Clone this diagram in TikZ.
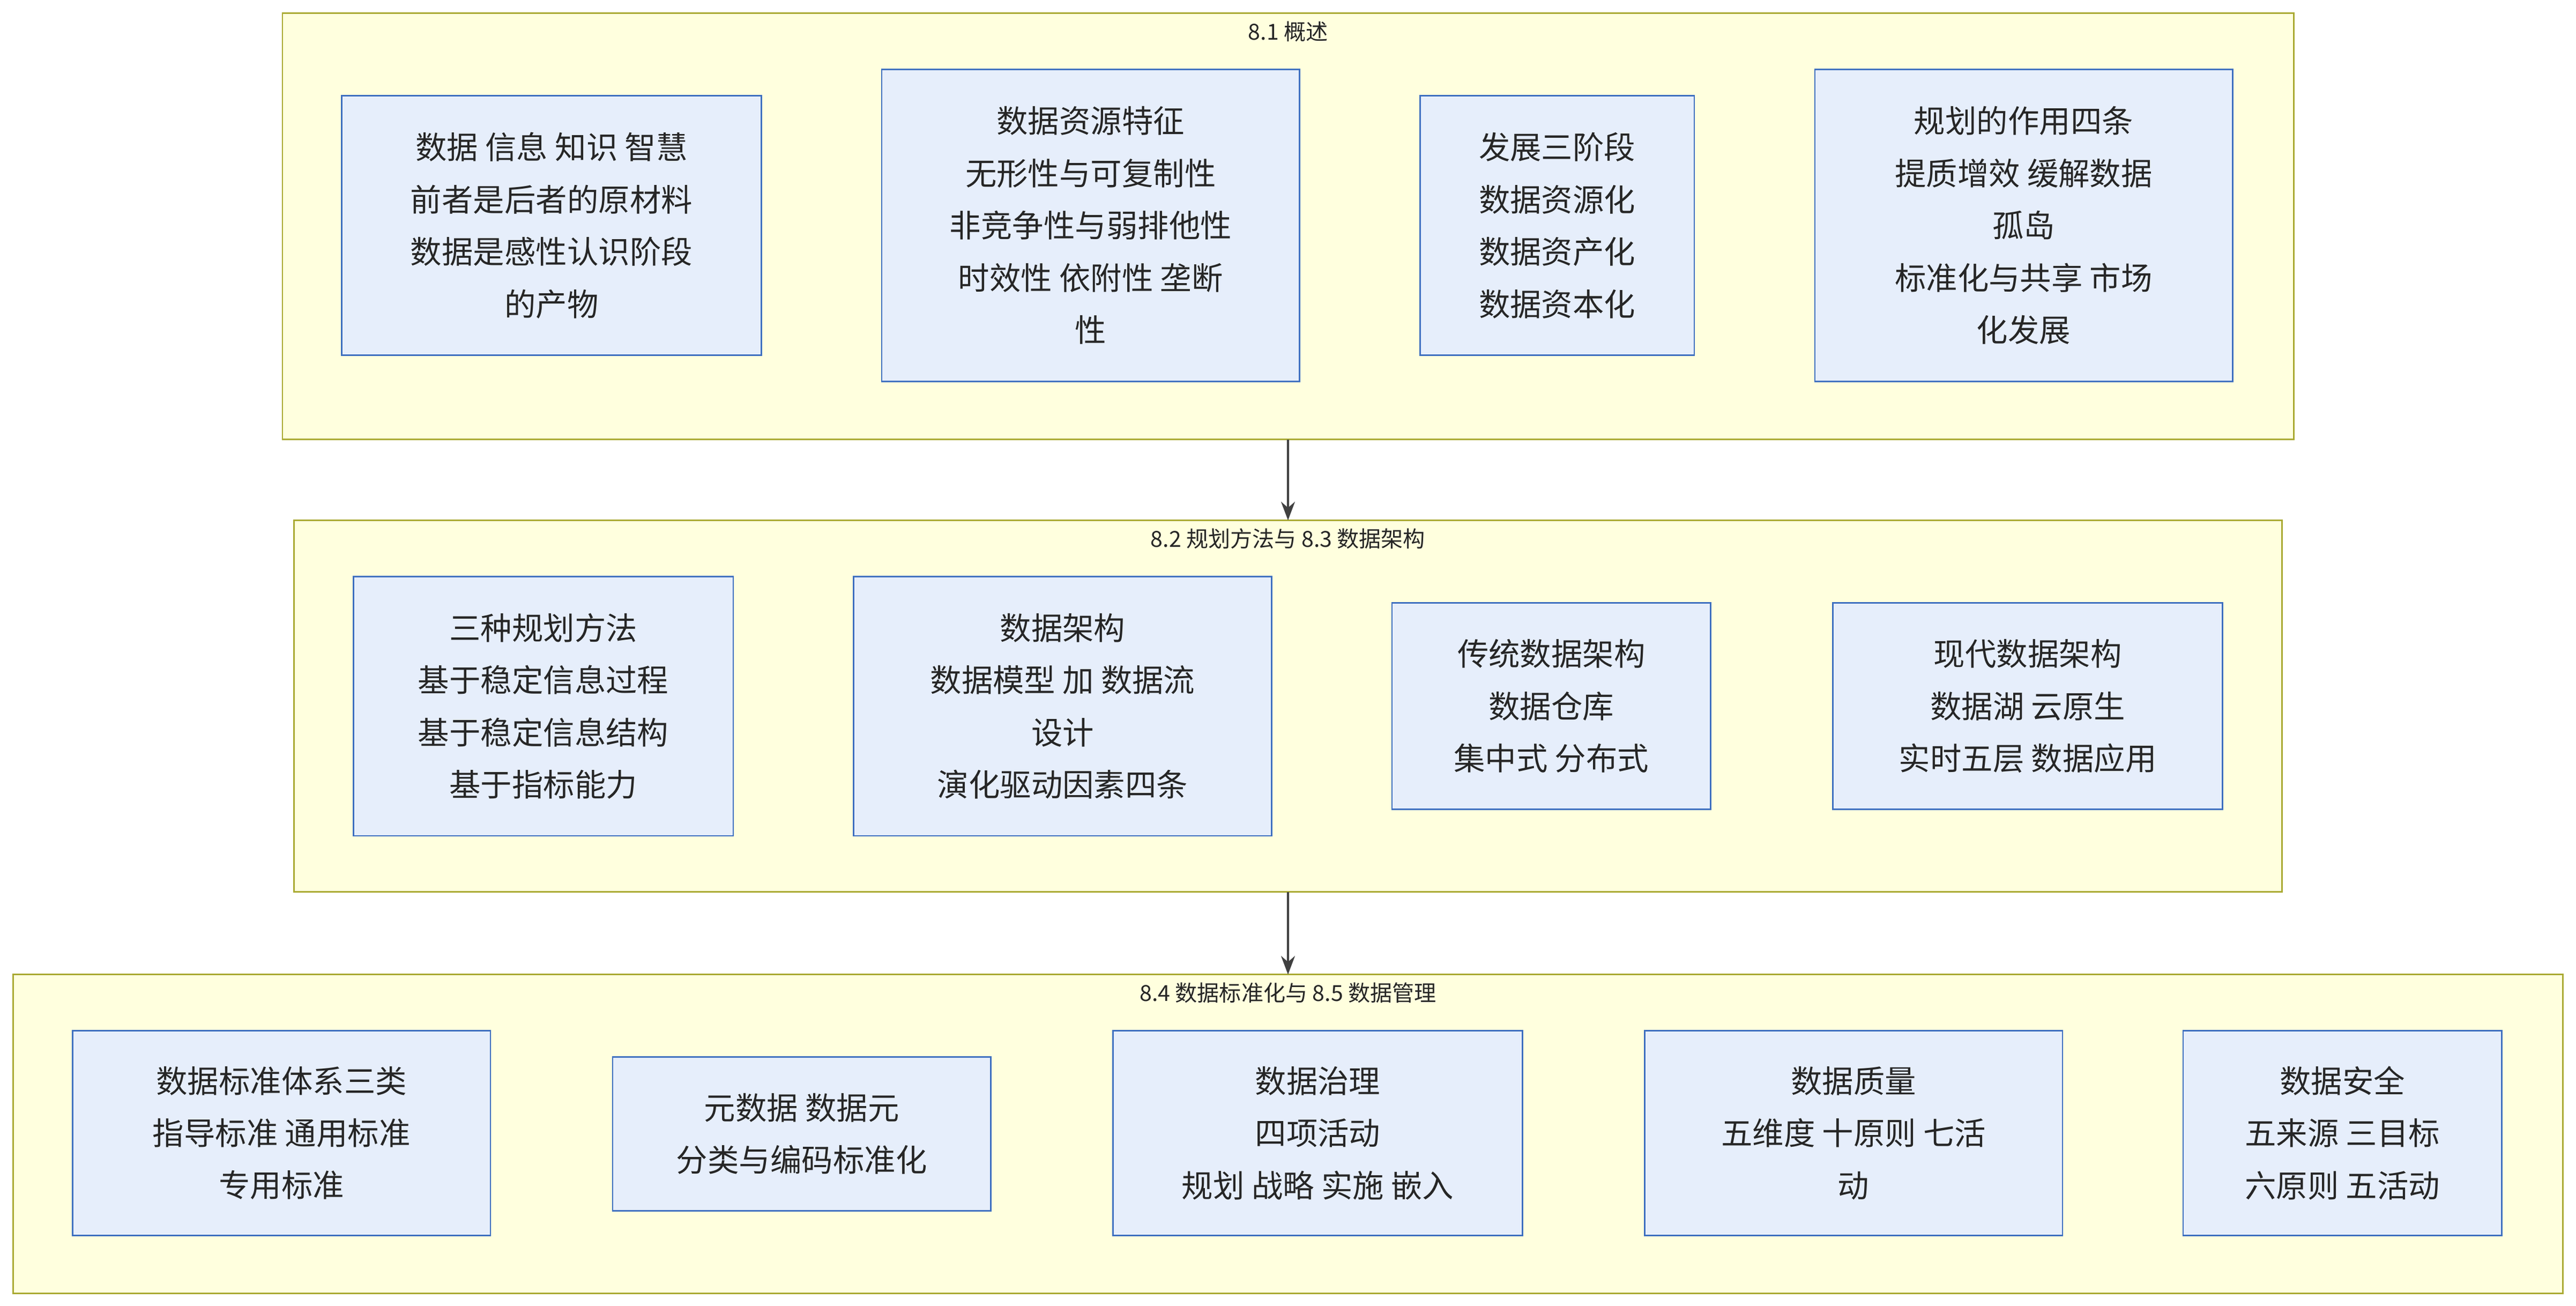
\documentclass[tikz,border=0pt]{standalone}
\usepackage{fontspec}
\setmainfont{Noto Sans CJK SC}
\usetikzlibrary{arrows.meta}
\definecolor{grpfill}{HTML}{FFFFDE}
\definecolor{grpline}{HTML}{AAAA33}
\definecolor{boxfill}{HTML}{E6EEFB}
\definecolor{boxline}{HTML}{3F70C0}
\tikzset{
  group/.style={draw=grpline, fill=grpfill, line width=1.2pt},
  grouptitle/.style={font=\fontsize{19}{22}\selectfont, text=black!85},
  item/.style={draw=boxline, fill=boxfill, line width=1.2pt, align=center,
    inner sep=0pt, font=\fontsize{27}{45}\selectfont, text=black!85},
  link/.style={draw=black!75, line width=1.6pt, -{Stealth[length=16pt,width=12pt]}}
}
\newcommand{\itembox}[6]{% name, x1, y1, x2, y2, text
  \node[item, minimum width={(#4-#2)*0.05cm}, minimum height={(#5-#3)*0.05cm}]
    (#1) at ({(#2+#4)/2}, {(#3+#5)/2}) {#6};}
\begin{document}
\begin{tikzpicture}[x=0.05cm, y=-0.05cm]
  \useasboundingbox (0,0) rectangle (1560,790.7);
  % clusters
  \draw[group] (171,8) rectangle (1389,266);
  \node[grouptitle] (g1) at (780,19) {8.1 概述};
  \draw[group] (178,315) rectangle (1382,540);
  \node[grouptitle] (g2) at (780,326) {8.2 规划方法与 8.3 数据架构};
  \draw[group] (8,590) rectangle (1552,783);
  \node[grouptitle] (g3) at (780,601) {8.4 数据标准化与 8.5 数据管理};
  \coordinate (c1s) at (780,266);
  \coordinate (c2n) at (780,315);
  \coordinate (c2s) at (780,540);
  \coordinate (c3n) at (780,590);
  % 8.1
  \itembox{dikw}{207}{58}{461}{215}{数据 信息 知识 智慧\\前者是后者的原材料\\数据是感性认识阶段\\的产物}
  \itembox{feat}{534}{42}{787}{231}{数据资源特征\\无形性与可复制性\\非竞争性与弱排他性\\时效性 依附性 垄断\\性}
  \itembox{stage}{860}{58}{1026}{215}{发展三阶段\\数据资源化\\数据资产化\\数据资本化}
  \itembox{role}{1099}{42}{1352}{231}{规划的作用四条\\提质增效 缓解数据\\孤岛\\标准化与共享 市场\\化发展}
  % 8.2 / 8.3
  \itembox{plan}{214}{349}{444}{506}{三种规划方法\\基于稳定信息过程\\基于稳定信息结构\\基于指标能力}
  \itembox{arch}{517}{349}{770}{506}{数据架构\\数据模型 加 数据流\\设计\\演化驱动因素四条}
  \itembox{trad}{843}{365}{1036}{490}{传统数据架构\\数据仓库\\集中式 分布式}
  \itembox{modern}{1110}{365}{1346}{490}{现代数据架构\\数据湖 云原生\\实时五层 数据应用}
  % 8.4 / 8.5
  \itembox{std}{44}{624}{297}{748}{数据标准体系三类\\指导标准 通用标准\\专用标准}
  \itembox{meta}{371}{640}{600}{733}{元数据 数据元\\分类与编码标准化}
  \itembox{gov}{674}{624}{922}{748}{数据治理\\四项活动\\规划 战略 实施 嵌入}
  \itembox{qual}{996}{624}{1249}{748}{数据质量\\五维度 十原则 七活\\动}
  \itembox{sec}{1322}{624}{1515}{748}{数据安全\\五来源 三目标\\六原则 五活动}
  % links
  \draw[link] (c1s) -- (c2n);
  \draw[link] (c2s) -- (c3n);
\end{tikzpicture}
\end{document}
